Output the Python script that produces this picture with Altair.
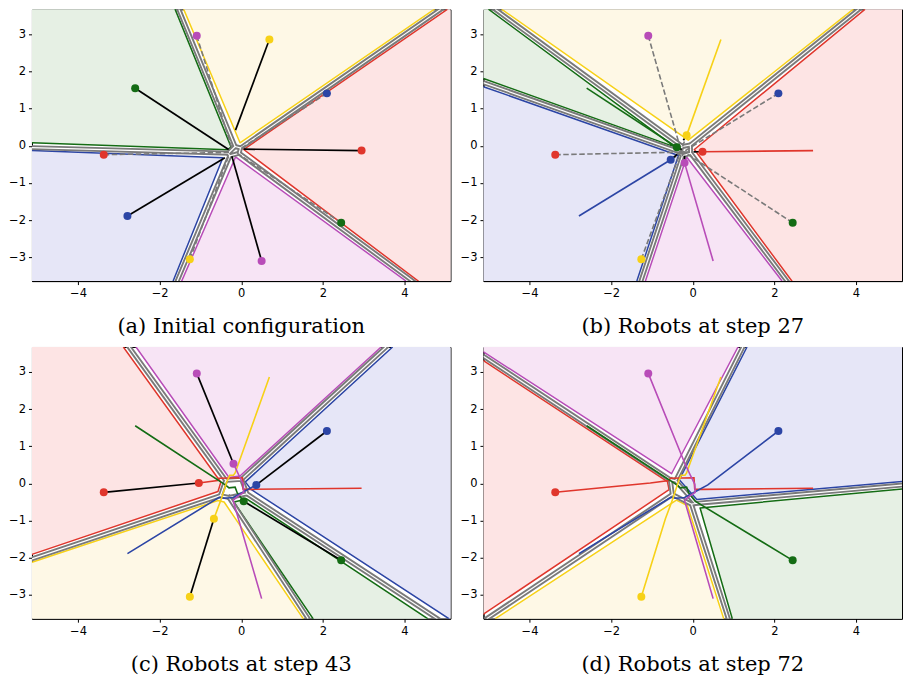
import altair as alt
import pandas as pd

NAMES = ["red", "green", "blue", "yellow", "magenta"]
LINE_COLORS = ["#e0362c", "#146c14", "#2c45a5", "#f7d117", "#b84cb8"]
FILL_COLORS = ["#fde4e4", "#e6f0e4", "#e6e6f7", "#fef8e6", "#f7e4f5"]

X_DOMAIN = [-5.13, 5.13]
Y_DOMAIN = [-3.64, 3.67]
X_TICKS = [-4, -2, 0, 2, 4]
Y_TICKS = [-3, -2, -1, 0, 1, 2, 3]

CAPTIONS = ["(a) Initial configuration", "(b) Robots at step 27",
            "(c) Robots at step 43", "(d) Robots at step 72"]

# robot paths: start ... goal (order: red, green, blue, yellow, magenta)
PATH_RED = [(2.95, -0.13), (0.24, -0.16), (0.05, -0.16), (0.03, 0.15), (-0.55, 0.14),
            (-0.58, 0.08), (-1.04, 0.01), (-3.37, -0.24)]
PATH_GREEN = [(-2.60, 1.55), (-0.39, -0.04), (-0.30, -0.12), (-0.15, -0.10), (-0.10, -0.25),
              (0.06, -0.48), (2.45, -2.07)]
PATH_BLUE = [(-2.79, -1.89), (-0.54, -0.375), (-0.42, -0.40), (-0.20, -0.38), (-0.02, -0.27),
             (0.37, -0.04), (2.10, 1.41)]
PATH_YELLOW = [(0.69, 2.86), (-0.15, 0.28), (-0.19, 0.22), (-0.28, 0.22), (-0.35, 0.05),
               (-0.50, -0.45), (-0.67, -0.95), (-1.26, -3.05)]
PATH_MAGENTA = [(0.50, -3.10), (-0.20, -0.46), (-0.11, -0.37), (0.06, -0.24), (0.05, -0.02),
                (-0.05, 0.20), (-0.19, 0.53), (-1.09, 2.96)]
PATHS = [PATH_RED, PATH_GREEN, PATH_BLUE, PATH_YELLOW, PATH_MAGENTA]
STEP_B = [1, 1, 1, 1, 1]
STEP_C = [6, 5, 5, 6, 6]
STEP_D = [7, 6, 6, 7, 7]

# ---- panel (a)
A_REGION_RED = [(5.05, 3.67), (0.06, -0.10), (4.34, -3.64), (4.34, -4.3), (5.8, -4.3), (5.8, 4.3), (5.05, 4.3)]
A_REGION_GREEN = [(-5.13, 0.08), (-0.33, -0.11), (-0.25, -0.03), (-1.62, 3.67), (-1.62, 4.3), (-5.8, 4.3), (-5.8, 0.08)]
A_REGION_BLUE = [(-1.67, -3.64), (-0.45, -0.32), (-5.13, -0.125), (-5.8, -0.125), (-5.8, -4.3), (-1.67, -4.3)]
A_REGION_YELLOW = [(-1.41, 3.67), (-0.03, 0.08), (4.73, 3.67), (4.73, 4.3), (-1.41, 4.3)]
A_REGION_MAGENTA = [(4.04, -3.64), (-0.14, -0.30), (-1.46, -3.64), (-1.46, -4.3), (4.04, -4.3)]
A_RAY_ENDS = [(-1.53, 3.67), (4.89, 3.67), (4.20, -3.64), (-1.57, -3.64), (-5.13, -0.05)]
A_KNOT = [(-0.15, -0.02), (-0.02, -0.06), (-0.05, -0.20), (-0.28, -0.27), (-0.32, -0.20)]
A_BLACK_ENDS = [(0.06, -0.09), (-0.31, -0.10), (-0.40, -0.32), (-0.14, 0.42), (-0.23, -0.28)]
A_DASH_ENDS = [(-0.30, -0.18), (-0.10, -0.20), (-0.05, -0.10), (-0.30, -0.25), (-0.22, -0.10)]

# ---- panel (b)
B_REGION_RED = [(4.22, 3.67), (0.04, -0.10), (2.43, -3.64), (2.43, -4.3), (5.8, -4.3), (5.8, 4.3), (4.22, 4.3)]
B_REGION_GREEN = [(-5.13, 1.81), (-0.44, -0.03), (-5.00, 3.67), (-5.00, 4.3), (-5.8, 4.3), (-5.8, 1.81)]
B_REGION_BLUE = [(-1.37, -3.64), (-0.35, -0.26), (-5.13, 1.59), (-5.8, 1.59), (-5.8, -4.3), (-1.37, -4.3)]
B_REGION_YELLOW = [(-4.68, 3.67), (-0.11, 0.15), (3.93, 3.67), (3.93, 4.3), (-4.68, 4.3)]
B_REGION_MAGENTA = [(2.19, -3.64), (-0.15, -0.30), (-1.16, -3.64), (-1.16, -4.3), (2.19, -4.3)]
B_RAY_ENDS = [(-4.84, 3.67), (4.07, 3.67), (2.31, -3.64), (-1.27, -3.64), (-5.13, 1.70)]
B_KNOT = [(-0.25, -0.02), (-0.06, 0.02), (-0.05, -0.20), (-0.25, -0.27), (-0.36, -0.15)]
B_BLACK_ENDS = [(0.03, -0.16), (-0.27, -0.10), (-0.38, -0.23), (-0.23, 0.15), (-0.20, -0.27)]

# ---- panel (c)
C_REGION_RED = [(-2.89, 3.67), (-0.50, 0.03), (-0.57, -0.22), (-5.13, -1.91), (-5.8, -1.91), (-5.8, 4.3), (-2.89, 4.3)]
C_REGION_GREEN = [(4.57, -3.64), (0.14, -0.42), (-0.18, -0.50), (1.76, -3.64), (1.76, -4.3), (4.57, -4.3)]
C_REGION_BLUE = [(3.71, 3.67), (0.10, 0.04), (0.24, -0.16), (5.09, -3.64), (5.09, -4.3), (5.8, -4.3), (5.8, 4.3), (3.71, 4.3)]
C_REGION_YELLOW = [(-5.13, -2.12), (-0.57, -0.46), (-0.42, -0.50), (1.52, -3.64), (1.52, -4.3), (-5.8, -4.3), (-5.8, -2.12)]
C_REGION_MAGENTA = [(-2.58, 3.67), (-0.30, 0.16), (-0.03, 0.20), (3.43, 3.67), (3.43, 4.3), (-2.58, 4.3)]
C_RAY_ENDS = [(-2.75, 3.67), (3.55, 3.67), (4.81, -3.64), (1.64, -3.64), (-5.13, -2.03)]
C_KNOT = [(-0.38, 0.08), (0.01, 0.11), (0.14, -0.28), (-0.30, -0.38), (-0.51, -0.33)]

# ---- panel (d)
D_REGION_RED = [(-5.13, 3.30), (-0.62, 0.05), (-0.58, -0.17), (-5.13, -3.52), (-5.8, -3.52), (-5.8, 3.30)]
D_REGION_GREEN = [(0.97, -3.64), (0.18, -0.66), (5.13, -0.15), (5.8, -0.15), (5.8, -4.3), (0.97, -4.3)]
D_REGION_BLUE = [(1.33, 3.67), (-0.33, 0.10), (0.10, -0.43), (5.13, 0.05), (5.8, 0.05), (5.8, 4.3), (1.33, 4.3)]
D_REGION_YELLOW = [(-4.84, -3.64), (-0.40, -0.45), (-0.13, -0.60), (0.76, -3.64), (0.76, -4.3), (-4.84, -4.3)]
D_REGION_MAGENTA = [(-5.13, 3.54), (-0.52, 0.26), (1.11, 3.67), (1.11, 4.3), (-5.8, 4.3), (-5.8, 3.54)]
D_RAY_ENDS = [(-5.13, 3.42), (1.23, 3.67), (5.13, -0.045), (0.87, -3.64), (-5.05, -3.64)]
D_KNOT = [(-0.55, 0.10), (-0.42, 0.07), (0.07, -0.54), (-0.03, -0.56), (-0.50, -0.30)]

GRAY = "#7a7a7a"
PANEL_W = 419
PANEL_H = 272


def lines_df(polylines):
    rows = []
    for s, (name, pts) in enumerate(polylines):
        for i, (x, y) in enumerate(pts):
            rows.append({"seg": s, "name": name, "i": i, "x": x, "y": y})
    return pd.DataFrame(rows, columns=["seg", "name", "i", "x", "y"])


def enc_xy():
    x = alt.X("x:Q", scale=alt.Scale(domain=X_DOMAIN, nice=False, zero=False),
              axis=alt.Axis(values=X_TICKS, title=None, labelFlush=False,
                            labelExpr="replace(datum.label, '-', '\u2212')"))
    y = alt.Y("y:Q", scale=alt.Scale(domain=Y_DOMAIN, nice=False, zero=False),
              axis=alt.Axis(values=Y_TICKS, title=None, labelFlush=False,
                            labelExpr="replace(datum.label, '-', '\u2212')"))
    return x, y


COLOR_SCALE = alt.Scale(domain=NAMES, range=LINE_COLORS)
FILL_SCALE = alt.Scale(domain=NAMES, range=FILL_COLORS)


def panel(caption, regions, ray_ends, knot, dashed, black, trajs, points):
    x, y = enc_xy()
    layers = []
    reg = lines_df([(n, list(p) + [p[0]]) for n, p in zip(NAMES, regions)])
    layers.append(alt.Chart(reg).mark_line(strokeWidth=1.5, clip=True, strokeJoin="round").encode(
        x=x, y=y, order="i:Q",
        fill=alt.Fill("name:N", scale=FILL_SCALE, legend=None),
        stroke=alt.Stroke("name:N", scale=COLOR_SCALE, legend=None)))
    gray_lines = [("g", [e, k]) for e, k in zip(ray_ends, knot)] + [("g", list(knot) + [knot[0]])]
    gdf = lines_df(gray_lines)
    layers.append(alt.Chart(gdf).mark_line(color=GRAY, strokeWidth=5, strokeCap="square",
                                           strokeJoin="round", clip=True).encode(
        x=x, y=y, order="i:Q", detail="seg:N"))
    layers.append(alt.Chart(gdf).mark_line(color="white", strokeWidth=1.2, clip=True).encode(
        x=x, y=y, order="i:Q", detail="seg:N"))
    if dashed:
        layers.append(alt.Chart(lines_df(dashed)).mark_line(color=GRAY, strokeWidth=1.6,
                                                            strokeDash=[5.5, 2.5], clip=True).encode(
            x=x, y=y, order="i:Q", detail="seg:N"))
    if black:
        layers.append(alt.Chart(lines_df(black)).mark_line(color="black", strokeWidth=1.7, clip=True).encode(
            x=x, y=y, order="i:Q", detail="seg:N"))
    if trajs:
        layers.append(alt.Chart(lines_df(trajs)).mark_line(strokeWidth=1.6, clip=True).encode(
            x=x, y=y, order="i:Q", detail="seg:N",
            stroke=alt.Stroke("name:N", scale=COLOR_SCALE, legend=None)))
    pts = pd.DataFrame([{"name": n, "x": p[0], "y": p[1]} for n, p in points])
    layers.append(alt.Chart(pts).mark_circle(size=64, opacity=1).encode(
        x=x, y=y, color=alt.Color("name:N", scale=COLOR_SCALE, legend=None)))
    return alt.layer(*layers).properties(
        width=PANEL_W, height=PANEL_H,
        title=alt.TitleParams(caption, orient="bottom", font="DejaVu Serif", fontSize=21,
                              fontWeight="normal", color="black", offset=17))


starts = [p[0] for p in PATHS]
goals = [p[-1] for p in PATHS]
rob_b = [p[s] for p, s in zip(PATHS, STEP_B)]
rob_c = [p[s] for p, s in zip(PATHS, STEP_C)]

pa = panel(CAPTIONS[0],
           [A_REGION_RED, A_REGION_GREEN, A_REGION_BLUE, A_REGION_YELLOW, A_REGION_MAGENTA],
           A_RAY_ENDS, A_KNOT,
           [(n, [g, e]) for n, g, e in zip(NAMES, goals, A_DASH_ENDS)],
           [(n, [s, e]) for n, s, e in zip(NAMES, starts, A_BLACK_ENDS)],
           [],
           list(zip(NAMES, starts)) + list(zip(NAMES, goals)))

pb = panel(CAPTIONS[1],
           [B_REGION_RED, B_REGION_GREEN, B_REGION_BLUE, B_REGION_YELLOW, B_REGION_MAGENTA],
           B_RAY_ENDS, B_KNOT,
           [(n, [g, r]) for n, g, r in zip(NAMES, goals, rob_b)],
           [(n, [r, e]) for n, r, e in zip(NAMES, rob_b, B_BLACK_ENDS)],
           [(n, p[:s + 1]) for n, p, s in zip(NAMES, PATHS, STEP_B)],
           list(zip(NAMES, goals)) + list(zip(NAMES, rob_b)))

pc = panel(CAPTIONS[2],
           [C_REGION_RED, C_REGION_GREEN, C_REGION_BLUE, C_REGION_YELLOW, C_REGION_MAGENTA],
           C_RAY_ENDS, C_KNOT,
           [],
           [(n, [r, g]) for n, r, g in zip(NAMES, rob_c, goals)],
           [(n, p[:s + 1]) for n, p, s in zip(NAMES, PATHS, STEP_C)],
           list(zip(NAMES, goals)) + list(zip(NAMES, rob_c)))

pd_ = panel(CAPTIONS[3],
            [D_REGION_RED, D_REGION_GREEN, D_REGION_BLUE, D_REGION_YELLOW, D_REGION_MAGENTA],
            D_RAY_ENDS, D_KNOT,
            [],
            [],
            [(n, p[:s + 1]) for n, p, s in zip(NAMES, PATHS, STEP_D)],
            list(zip(NAMES, goals)))

chart = alt.vconcat(
    alt.hconcat(pa, pb, spacing=8),
    alt.hconcat(pc, pd_, spacing=8),
    spacing=8,
    padding={"left": 0, "top": 0, "right": 0, "bottom": 0},
).configure_view(
    stroke="black", strokeWidth=1
).configure_axis(
    grid=False, domainColor="black", tickColor="black", tickSize=3.5, labelPadding=3,
    labelFont="DejaVu Sans", labelFontSize=11.5, labelColor="black", domainWidth=1,
)

chart.save("out.html", embed_options={"renderer": "svg", "actions": False})
